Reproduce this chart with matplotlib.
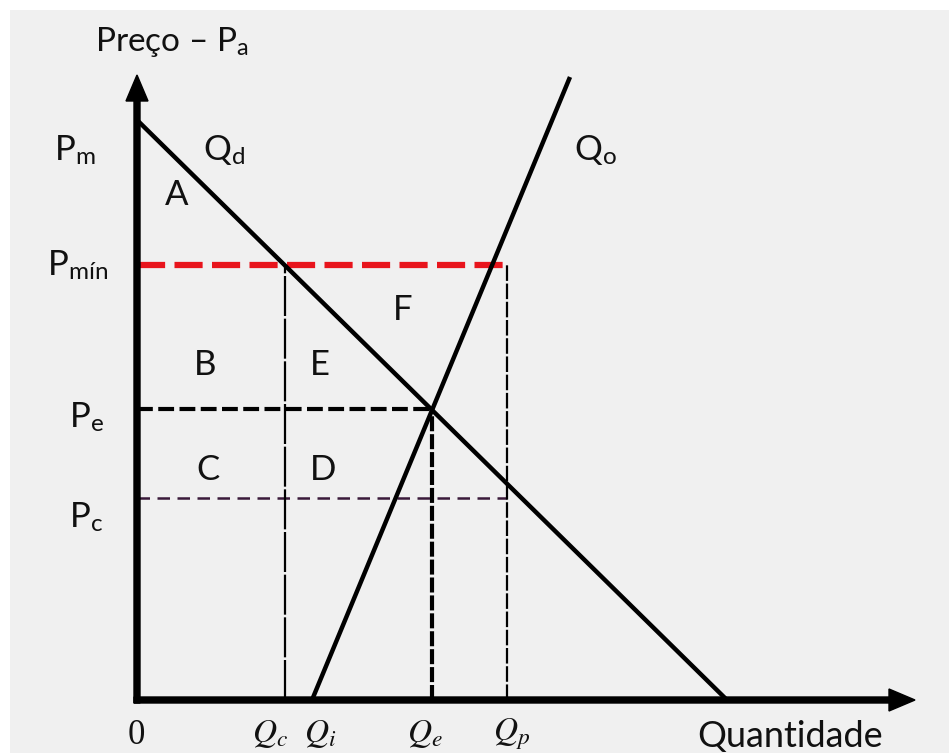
import matplotlib.pyplot as plt
from matplotlib.patches import Rectangle

plt.rcParams['mathtext.fontset'] = 'custom'
plt.rcParams['mathtext.rm'] = 'Lato'
plt.rcParams['mathtext.it'] = 'STIXGeneral:italic'
plt.rcParams['font.family'] = ['Lato', 'DejaVu Sans']

# curvas (unidades arbitrarias)
demanda_q = [0, 59]
demanda_p = [58, 0]
oferta_q = [17.5, 43.3]
oferta_p = [0, 62.3]

P_min = 43.5
P_e = 29.1
P_c = 20.2
Q_c = 14.8
Q_e = 29.5
Q_p = 37.0
Q_red_fim = 36.6

eixo_x_fim = 77.8
eixo_y_fim = 62.5

fig = plt.figure(figsize=(9.49, 7.53), dpi=100)
fig.patch.set_facecolor('white')

ax = fig.add_axes([0, 0, 1, 1])
ax.set_xlim(-13.7, 81.2)
ax.set_ylim(-5.3, 70)
ax.axis('off')
ax.add_patch(Rectangle((10 / 949, 0), 1, 743 / 753, transform=fig.transFigure,
                       facecolor='#f0f0f0', edgecolor='none', zorder=-5))

# linhas tracejadas
ax.plot([0, Q_red_fim], [P_min, P_min], color='#e8141c', lw=4.5, dashes=(4.5, 1.5), solid_capstyle='butt')
ax.plot([0, Q_e], [P_e, P_e], color='black', lw=3, dashes=(3.8, 1.3))
ax.plot([Q_e, Q_e], [0, P_e], color='black', lw=3, dashes=(3.6, 0.7))
ax.plot([0, Q_p], [P_c, P_c], color='#3a1a3a', lw=1.8, dashes=(5, 3))
ax.plot([Q_c, Q_c], [0, P_min], color='black', lw=1.6, dashes=(18, 1.2))
ax.plot([Q_p, Q_p], [0, P_min], color='black', lw=1.6, dashes=(7, 1.2))

# curvas
ax.plot(demanda_q, demanda_p, color='black', lw=3.2, solid_capstyle='butt')
ax.plot(oferta_q, oferta_p, color='black', lw=3.2, solid_capstyle='butt')

# eixos
ax.arrow(0, -0.3, 0, eixo_y_fim + 0.3, width=0.6, head_width=2.2, head_length=2.6,
         length_includes_head=True, color='black', zorder=5)
ax.arrow(-0.3, 0, eixo_x_fim + 0.3, 0, width=0.6, head_width=2.2, head_length=2.6,
         length_includes_head=True, color='black', zorder=5)

fs = 25
cor = '#111111'
ax.text(3.5, 65.8, r'Preço – $\mathrm{P}_\mathrm{a}$', fontsize=fs - 1, ha='center', va='center', color=cor)
ax.text(-8.3, 55, r'$\mathrm{P}_\mathrm{m}$', fontsize=fs, ha='left', va='center', color=cor)
ax.text(6.6, 55, r'$\mathrm{Q}_\mathrm{d}$', fontsize=fs, ha='left', va='center', color=cor)
ax.text(4.0, 50.5, 'A', fontsize=fs, ha='center', va='center', color=cor)
ax.text(-9.0, 43.5, r'$\mathrm{P}_\mathrm{mín}$', fontsize=fs, ha='left', va='center', color=cor)
ax.text(-6.8, 28.3, r'$\mathrm{P}_\mathrm{e}$', fontsize=fs, ha='left', va='center', color=cor)
ax.text(-6.8, 18.3, r'$\mathrm{P}_\mathrm{c}$', fontsize=fs, ha='left', va='center', color=cor)
ax.text(43.7, 55, r'$\mathrm{Q}_\mathrm{o}$', fontsize=fs, ha='left', va='center', color=cor)

for lbl, x, y in [('B', 6.8, 33.5), ('E', 18.3, 33.5), ('F', 26.6, 39),
                  ('C', 7.1, 23), ('D', 18.6, 23)]:
    ax.text(x, y, lbl, fontsize=fs, ha='center', va='center', color=cor)

yb = -3.6
ax.text(-0.1, yb, '0', fontsize=fs, ha='center', va='center', color=cor, family='Liberation Serif')
ax.text(Q_c - 1.5, yb + 0.2, r'$Q_c$', fontsize=fs - 1, ha='center', va='center', color=cor)
ax.text(oferta_q[0] + 0.8, yb + 0.2, r'$Q_i$', fontsize=fs - 1, ha='center', va='center', color=cor)
ax.text(Q_e - 0.7, yb + 0.2, r'$Q_e$', fontsize=fs - 1, ha='center', va='center', color=cor)
ax.text(Q_p + 0.5, yb + 0.2, r'$Q_p$', fontsize=fs - 1, ha='center', va='center', color=cor)
ax.text(65.3, yb, 'Quantidade', fontsize=fs + 1, ha='center', va='center', color=cor)

fig.savefig('out.png', dpi=100, facecolor=fig.get_facecolor())
